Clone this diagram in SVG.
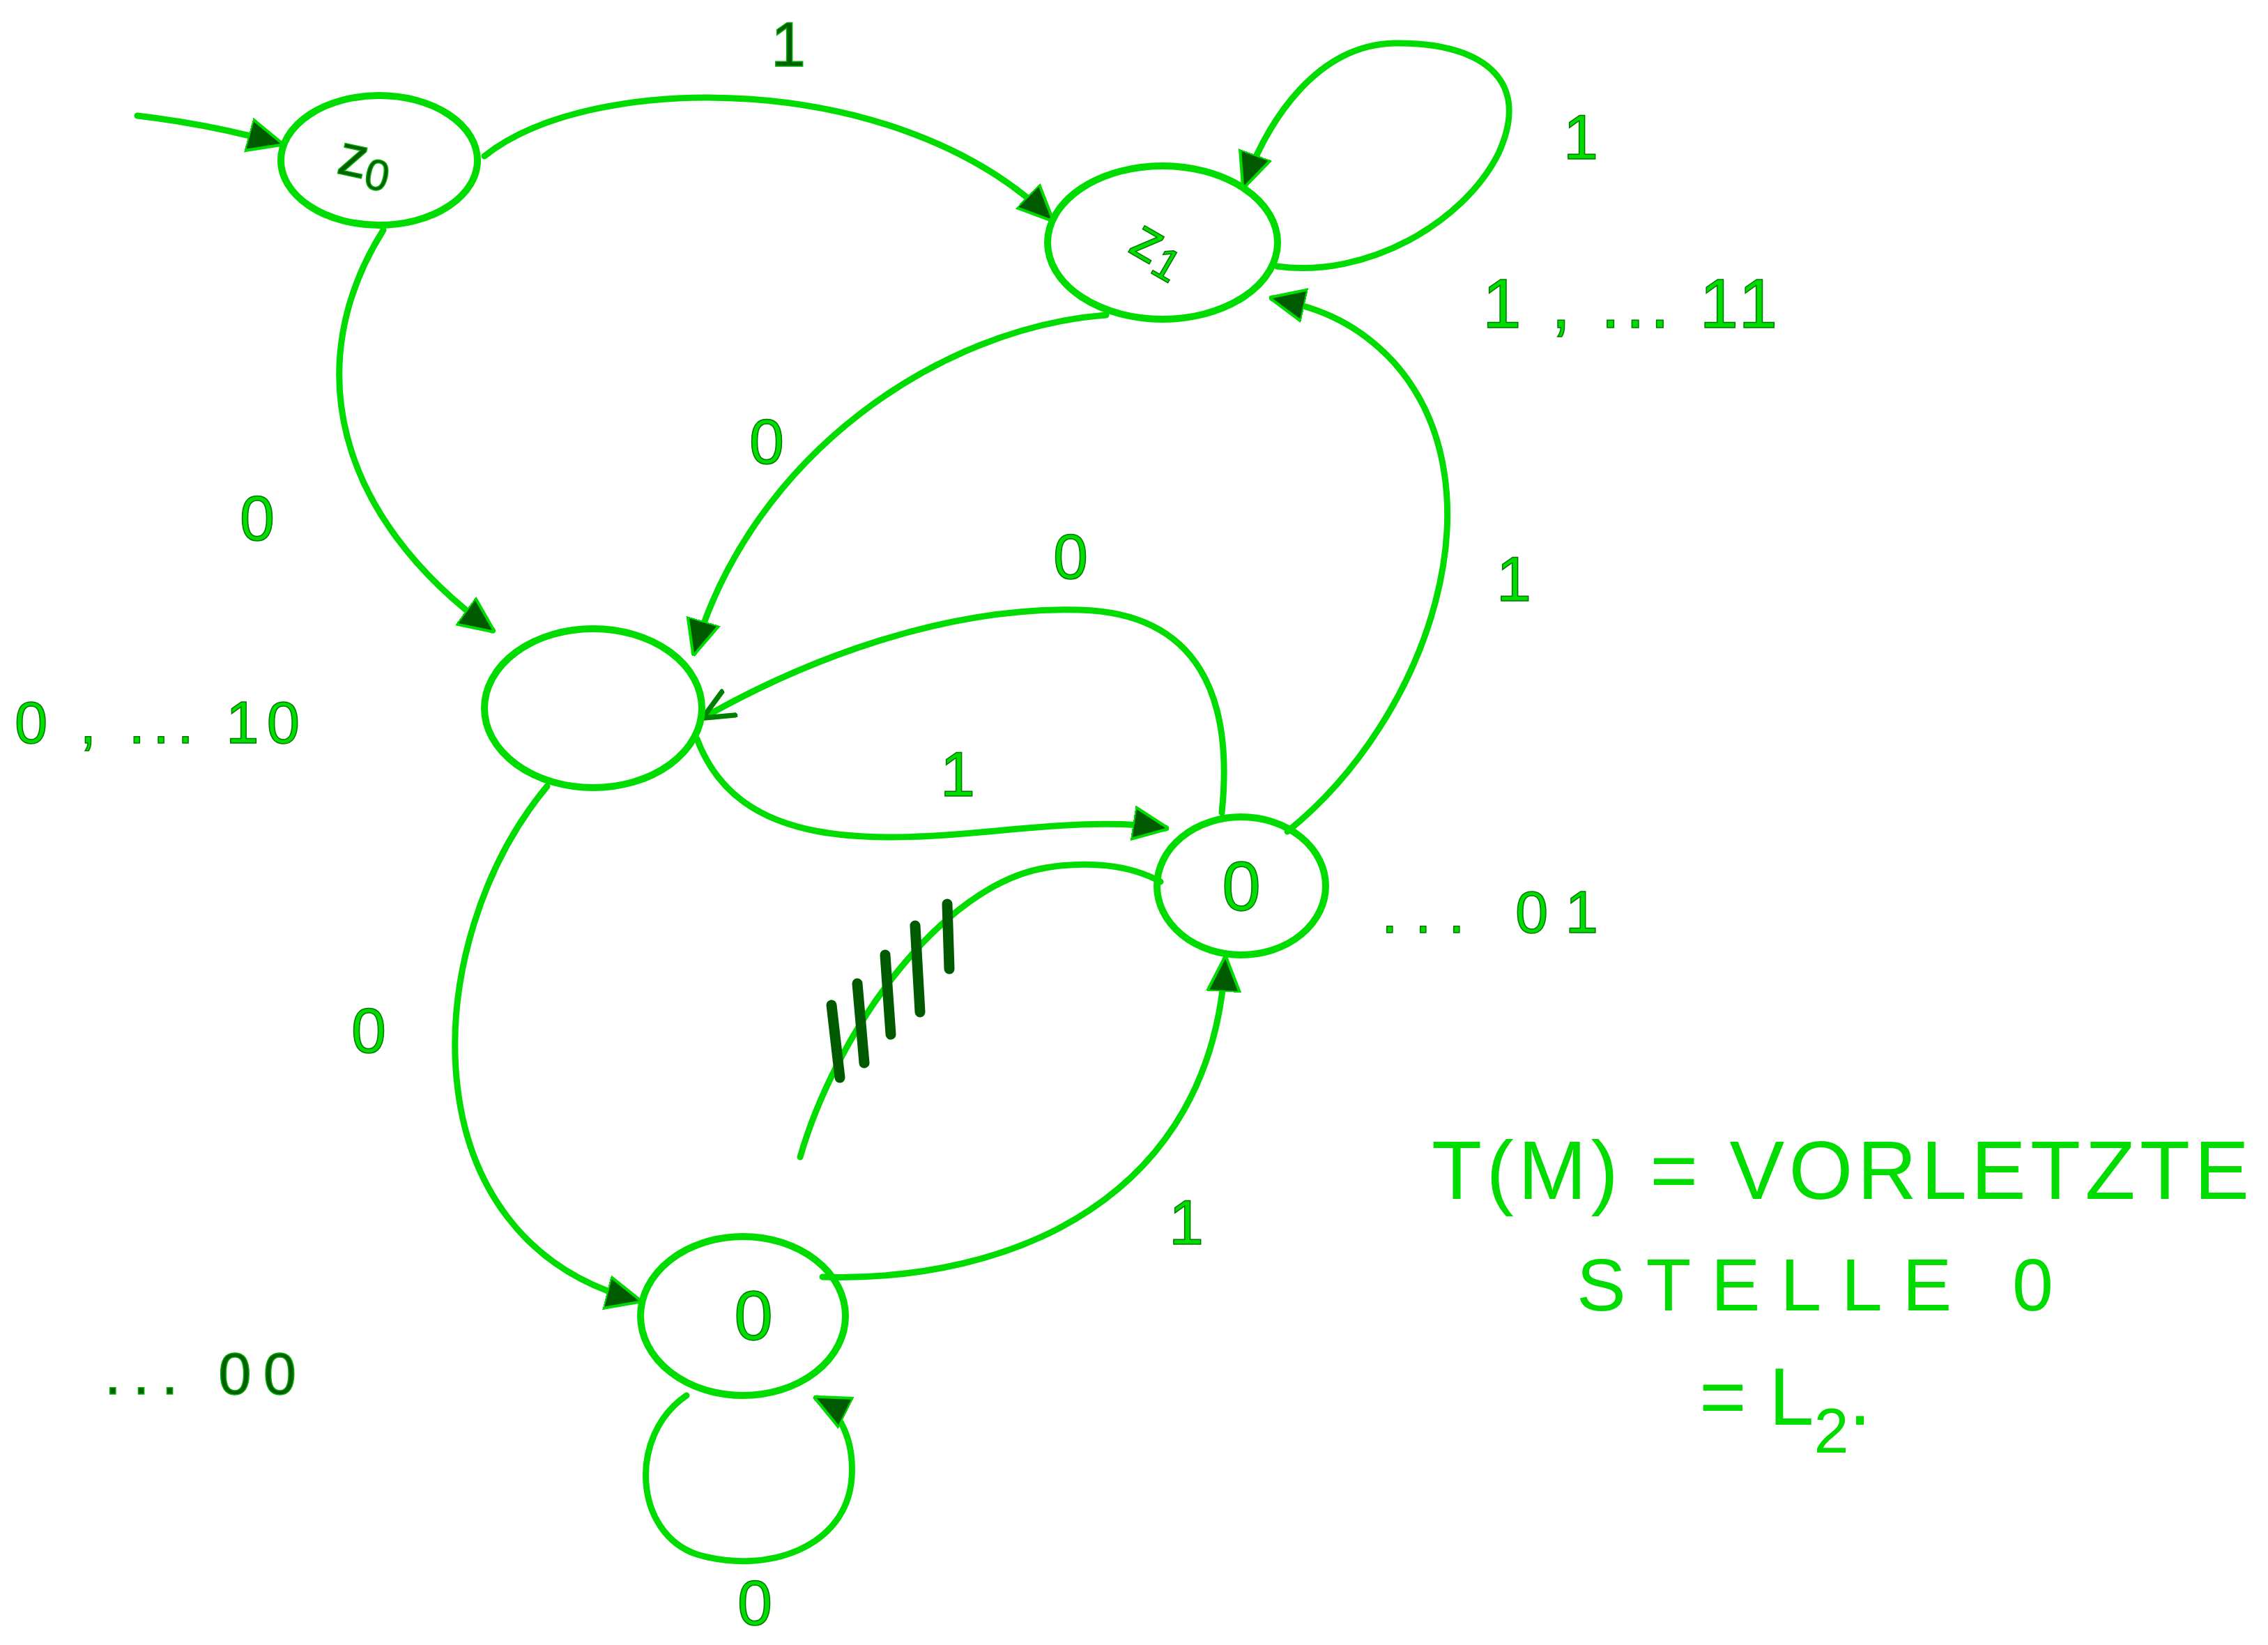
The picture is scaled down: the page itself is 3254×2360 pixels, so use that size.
<svg xmlns="http://www.w3.org/2000/svg" width="3254" height="2360" viewBox="0 0 3254 2360">
<defs>
<style>
.node{fill:none;stroke:#00dc00;stroke-width:10}
.edge{fill:none;stroke:#00dc00;stroke-width:9;stroke-linecap:round}
.hash{fill:none;stroke:#005a00;stroke-width:15;stroke-linecap:round}
.lbl{font-family:"Liberation Sans",Arial,sans-serif;fill:#00dc00;stroke:#007a00;stroke-width:1.5}
.dk{fill:#006000;stroke:#00b000;stroke-width:1.5}
.note{font-family:"Liberation Sans",Arial,sans-serif;fill:#00dc00;stroke:none}
</style>
<marker id="ah" viewBox="0 0 10 10" refX="9" refY="5" markerWidth="52" markerHeight="52" markerUnits="userSpaceOnUse" orient="auto">
<path d="M0,0.5 L10,5 L0,9.5 z" fill="#005a00" stroke="#00dc00" stroke-width="0.8"/>
</marker>
<marker id="open" viewBox="0 0 10 10" refX="9" refY="5" markerWidth="46" markerHeight="46" markerUnits="userSpaceOnUse" orient="auto">
<path d="M0,0.5 L10,5 L0,9.5" fill="none" stroke="#008000" stroke-width="1.6"/>
</marker>
</defs>
<rect width="3254" height="2360" fill="#ffffff"/>

<g id="connectors">
<path id="e-start" class="edge" d="M197,166 Q300,178 402,206" marker-end="url(#ah)"/>
<path id="e-z0-z1" class="edge" d="M695,224 C850,100 1290,100 1508,314" marker-end="url(#ah)"/>
<path id="e-z1-loop" class="edge" d="M1832,382 C1960,400 2100,320 2150,220 C2200,110 2120,60 2000,62 C1890,65 1820,170 1785,266" marker-end="url(#ah)"/>
<path id="e-z0-mid" class="edge" d="M550,330 C430,520 480,740 706,904" marker-end="url(#ah)"/>
<path id="e-z1-mid" class="edge" d="M1587,452 C1350,470 1080,650 996,936" marker-end="url(#ah)"/>
<path id="e-r-z1" class="edge" d="M1847,1193 C2050,1030 2160,700 2000,520 C1940,455 1880,440 1826,428" marker-end="url(#ah)"/>
<path id="e-r-mid" class="edge" d="M1753,1166 C1770,1000 1720,880 1550,875 C1350,870 1150,950 1012,1028" marker-end="url(#open)"/>
<path id="e-mid-r" class="edge" d="M1000,1060 C1060,1220 1250,1210 1450,1190 C1560,1180 1620,1180 1672,1188" marker-end="url(#ah)"/>
<path id="e-mid-bot" class="edge" d="M785,1128 C600,1350 580,1780 916,1866" marker-end="url(#ah)"/>
<path id="e-bot-r" class="edge" d="M1180,1832 C1450,1840 1740,1720 1758,1376" marker-end="url(#ah)"/>
<path id="e-bot-loop" class="edge" d="M985,2002 C900,2060 910,2200 1000,2230 C1100,2260 1215,2220 1222,2120 C1226,2060 1200,2020 1172,2006" marker-end="url(#ah)"/>
<path id="e-crossed" class="edge" d="M1148,1660 C1200,1480 1350,1270 1500,1245 C1560,1235 1620,1240 1665,1265"/>
<g id="crossout">
<line class="hash" x1="1193" y1="1442" x2="1205" y2="1546"/>
<line class="hash" x1="1230" y1="1411" x2="1240" y2="1525"/>
<line class="hash" x1="1270" y1="1370" x2="1278" y2="1484"/>
<line class="hash" x1="1313" y1="1328" x2="1320" y2="1452"/>
<line class="hash" x1="1359" y1="1297" x2="1362" y2="1390"/>
</g>
</g>

<g id="node-z0">
<ellipse class="node" cx="544" cy="230" rx="141" ry="93"/>
<text class="lbl dk" x="484" y="258" font-size="84" transform="rotate(12 530 240)">z<tspan font-size="62" dy="12">0</tspan></text>
</g>
<g id="node-z1">
<ellipse class="node" cx="1668" cy="348" rx="165" ry="110"/>
<text class="lbl" x="1620" y="385" font-size="84" transform="rotate(30 1665 365)">z<tspan font-size="64" dy="10">1</tspan></text>
</g>
<g id="node-mid">
<ellipse class="node" cx="851" cy="1016" rx="156" ry="114"/>
</g>
<g id="node-r">
<ellipse class="node" cx="1781" cy="1271" rx="121" ry="99"/>
<text class="lbl" x="1781" y="1306" font-size="100" text-anchor="middle">0</text>
</g>
<g id="node-bot">
<ellipse class="node" cx="1066" cy="1888" rx="147" ry="114"/>
<text class="lbl" x="1081" y="1922" font-size="100" text-anchor="middle">0</text>
</g>

<g id="labels">
<text class="lbl dk" x="1131" y="95" font-size="90" text-anchor="middle">1</text>
<text class="lbl" x="2268" y="228" font-size="90" text-anchor="middle">1</text>
<text class="lbl" x="2127" y="470" font-size="100" textLength="423" lengthAdjust="spacing">1 , ... 11</text>
<text class="lbl" x="369" y="775" font-size="90" text-anchor="middle">0</text>
<text class="lbl" x="1100" y="665" font-size="90" text-anchor="middle">0</text>
<text class="lbl" x="2172" y="862" font-size="90" text-anchor="middle">1</text>
<text class="lbl" x="1536" y="830" font-size="90" text-anchor="middle">0</text>
<text class="lbl" x="1374" y="1142" font-size="90" text-anchor="middle">1</text>
<text class="lbl" x="529" y="1510" font-size="90" text-anchor="middle">0</text>
<text class="lbl" x="1702" y="1785" font-size="90" text-anchor="middle">1</text>
<text class="lbl" x="1083" y="2331" font-size="90" text-anchor="middle">0</text>
<text class="lbl" x="21" y="1066" font-size="85" textLength="409" lengthAdjust="spacing">0 , ... 10</text>
<text class="lbl" x="1982" y="1338" font-size="85" textLength="311" lengthAdjust="spacing">... 01</text>
<text class="lbl dk" x="150" y="2000" font-size="85" textLength="275" lengthAdjust="spacing">... 00</text>
<text class="note" x="2054" y="1720" font-size="118" textLength="1173" lengthAdjust="spacing">T(M) = VORLETZTE</text>
<text class="note" x="2262" y="1880" font-size="106" textLength="684" lengthAdjust="spacing">STELLE 0</text>
<text class="note" x="2438" y="2044" font-size="116">= L<tspan font-size="90" dy="40">2</tspan><tspan dy="-40">.</tspan></text>
</g>
</svg>
